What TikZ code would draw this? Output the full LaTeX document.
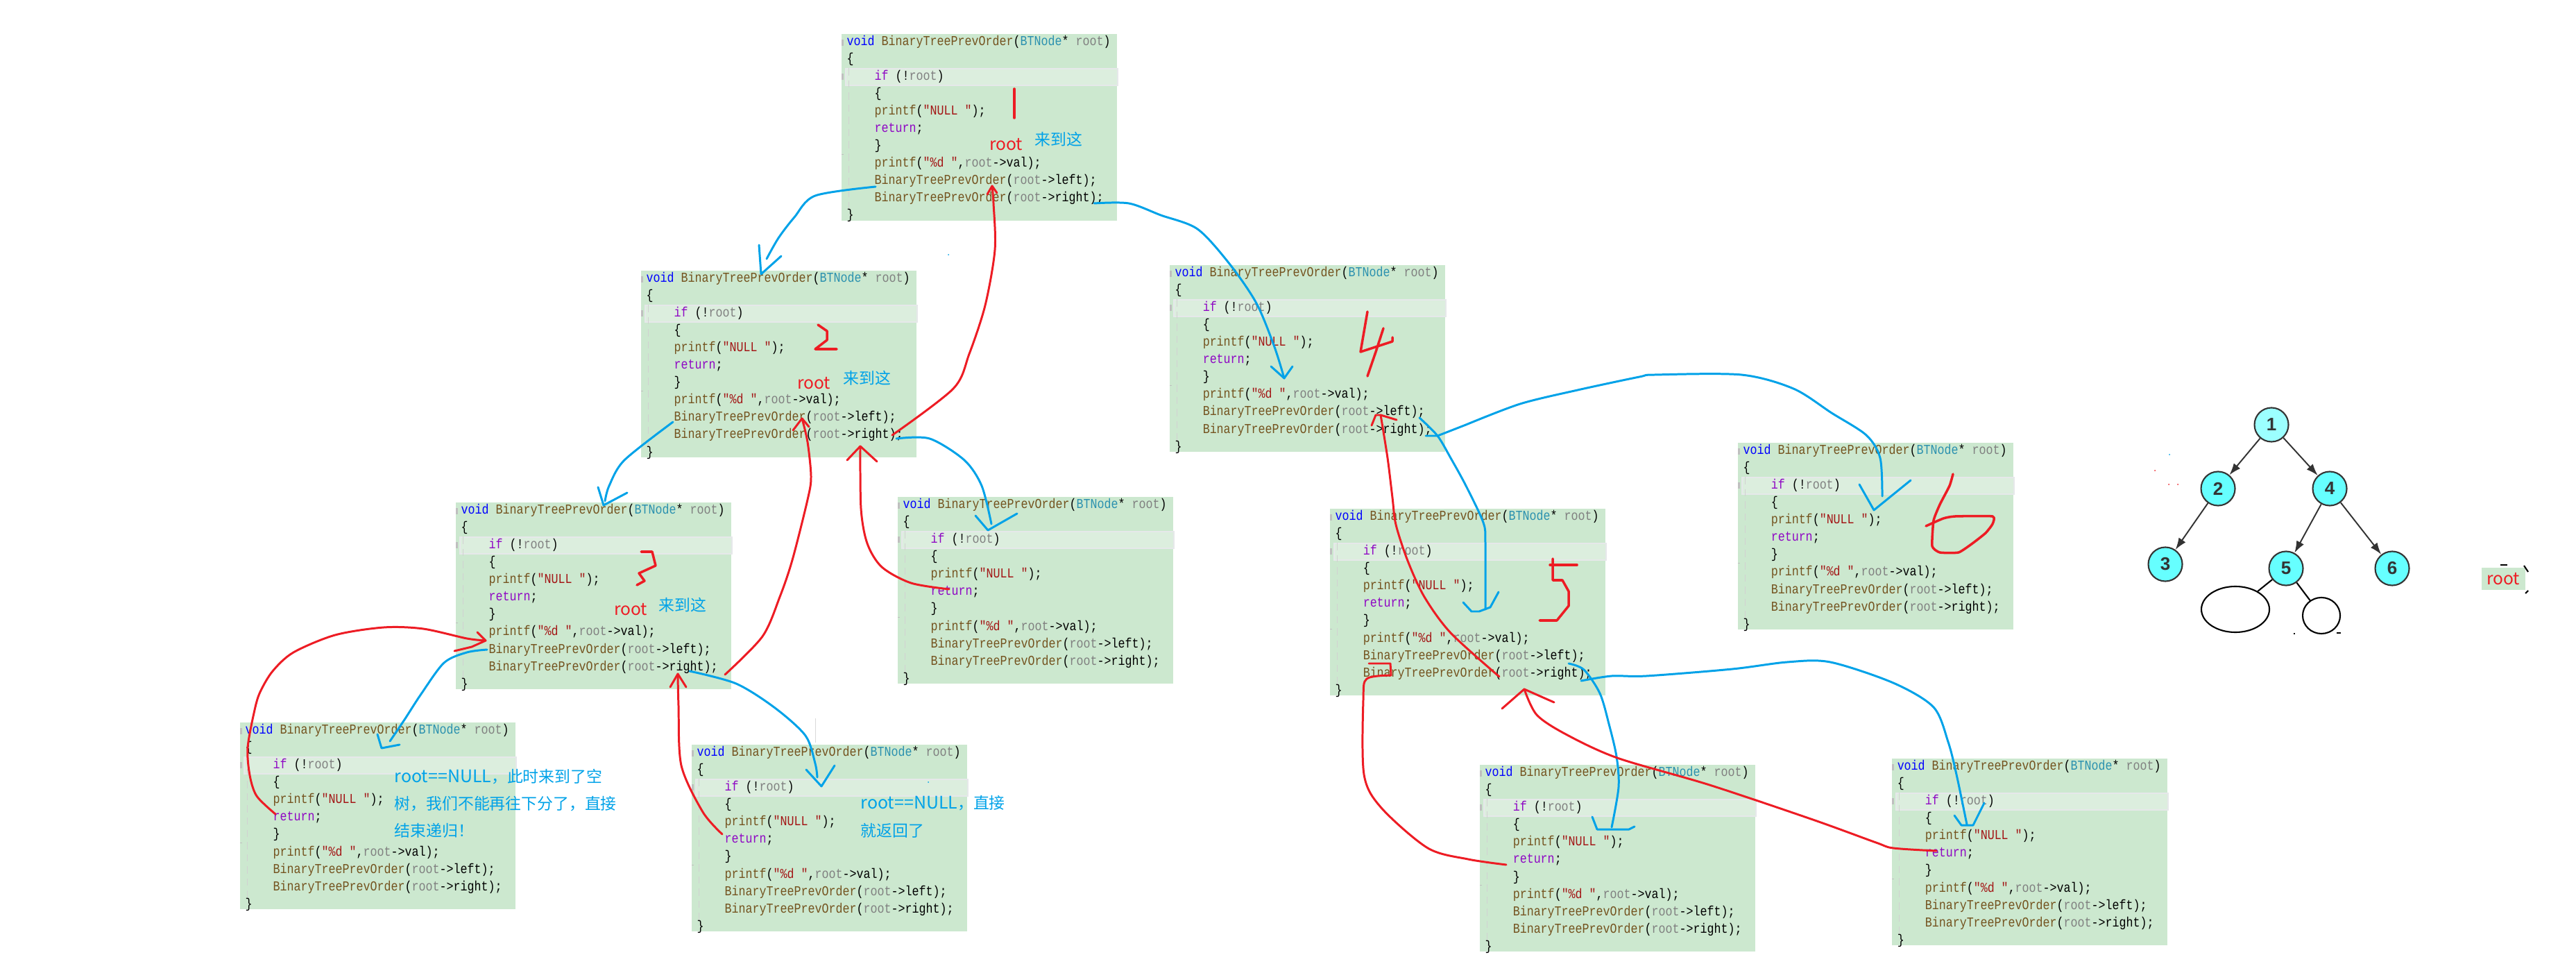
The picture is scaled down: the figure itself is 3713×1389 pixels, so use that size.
\documentclass[tikz,border=0pt]{standalone}
\usepackage{fontspec}
\usetikzlibrary{arrows.meta,shapes.geometric}
\newfontfamily\codefont[FakeStretch=0.846]{Liberation Mono}
\newfontfamily\cjk{Noto Sans CJK SC}
\newfontfamily\treefont{Liberation Sans}
\definecolor{boxgreen}{RGB}{204,232,207}
\definecolor{barfill}{RGB}{220,238,222}
\definecolor{barline}{RGB}{230,232,234}
\definecolor{penblue}{RGB}{0,162,232}
\definecolor{penred}{RGB}{237,28,36}
\definecolor{treecyan}{RGB}{102,255,255}
\definecolor{rootcyan}{RGB}{156,255,255}
\definecolor{treedark}{RGB}{51,51,51}
\newcommand{\ckw}[1]{\textcolor[RGB]{143,8,196}{#1}}
\newcommand{\cvoid}[1]{\textcolor[RGB]{0,0,255}{#1}}
\newcommand{\cfn}[1]{\textcolor[RGB]{116,83,31}{#1}}
\newcommand{\ctype}[1]{\textcolor[RGB]{43,145,175}{#1}}
\newcommand{\cvar}[1]{\textcolor[RGB]{128,128,128}{#1}}
\newcommand{\cstr}[1]{\textcolor[RGB]{163,21,21}{#1}}
\newcommand{\ind}{\hspace*{0.4cm}}
\newcommand{\codelines}{%
\cvoid{void} \cfn{BinaryTreePrevOrder}(\ctype{BTNode}* \cvar{root})\\
\{\\
\ind\ckw{if} (!\cvar{root})\\
\ind\{\\
\ind\cfn{printf}(\cstr{"NULL "});\\
\ind\ckw{return};\\
\ind\}\\
\ind\cfn{printf}(\cstr{"\%d "},\cvar{root}->val);\\
\ind\cfn{BinaryTreePrevOrder}(\cvar{root}->left);\\
\ind\cfn{BinaryTreePrevOrder}(\cvar{root}->right);\\
\}}
\tikzset{
  codebox/.style={anchor=north west, fill=boxgreen, inner sep=0pt, outer sep=0pt, minimum width=3.97cm, minimum height=2.69cm},
  codebar/.style={anchor=north west, fill=barfill, draw=barline, line width=0.5pt, inner sep=0pt, minimum width=3.92cm, minimum height=0.24cm},
  codetext/.style={anchor=north west, inner sep=0pt, align=left, font=\codefont\fontsize{5.6}{7.11}\selectfont},
  guide/.style={densely dashed, line width=0.2pt, draw=black!18},
  foldmark/.style={fill=black!25},
  bluepen/.style={draw=penblue, line width=0.85pt, line join=round, line cap=round},
  redpen/.style={draw=penred, line width=0.85pt, line join=round, line cap=round},
  digitpen/.style={redpen, line width=1pt},
  blackpen/.style={draw=black, line width=0.6pt},
  rootlabel/.style={text=penred, font=\cjk\fontsize{7}{8}\selectfont, inner sep=0pt},
  herelabel/.style={text=penblue, font=\cjk\fontsize{6.5}{8}\selectfont, inner sep=0pt},
  notelabel/.style={anchor=north west, text=penblue, align=left, inner sep=0pt, font=\cjk\fontsize{6.5}{11.2}\selectfont},
  treenode/.style={circle, draw=treedark, line width=0.6pt, fill=treecyan, minimum size=0.49cm, inner sep=0pt, font=\treefont\bfseries\fontsize{7.4}{8}\selectfont, text=treedark},
  treearrow/.style={-{Latex[length=1.7mm,width=1.2mm]}, draw=treedark, line width=0.55pt}
}
\begin{document}
\begin{tikzpicture}[x=0.01cm, y=-0.01cm]
  \useasboundingbox (0,0) rectangle (3713,1389);

  % code blocks
  \foreach \n/\x/\y in {node1/1213/49, node2/924/390, node3/657/724, null2r/1294/716, null3l/346/1041, null3r/997/1073, node4/1686/382, node5/1917/733, node6/2505/638, null5l/2133/1102, null5r/2727/1093} {
    \node[codebox] (\n) at (\x,\y) {};
    \node[codebar] (\n-bar) at (\x+5,\y+49) {};
    \draw[guide] (\x+10,\y+49) -- (\x+10,\y+261);
    \fill[foldmark] (\x,\y+8) rectangle +(3,9);
    \fill[foldmark] (\x,\y+57) rectangle +(3,9);
    \fill[foldmark] (\x,\y+173) rectangle +(3,1);
    \node[codetext] (\n-text) at (\x+7,\y+2) {\codelines};
  }

  % marks for the calls
  \coordinate (left1) at (1262,269);
  \coordinate (right1) at (1577,293);
  \coordinate (left2) at (970,608);
  \coordinate (right2) at (1292,632);
  \coordinate (left3) at (702,936);
  \coordinate (right3) at (994,967);
  \coordinate (left4) at (2046,602);
  \coordinate (right4) at (2055,628);
  \coordinate (left5) at (2261,956);
  \coordinate (right5) at (2279,981);
  \coordinate (back1) at (1430,268);
  \coordinate (back2) at (1156,603);
  \coordinate (back2r) at (1240,643);
  \coordinate (back3) at (700,923);
  \coordinate (back3r) at (977,971);
  \coordinate (back4) at (1990,598);
  \coordinate (back5) at (2004,956);
  \coordinate (back5r) at (2197,993);
  \coordinate (ret2) at (1286,627);
  \coordinate (ret3) at (1045,972);
  \coordinate (ret5) at (2161,975);
  \coordinate (retn2r) at (1368,849);
  \coordinate (retn3l) at (397,1173);
  \coordinate (retn3r) at (1041,1202);
  \coordinate (retn5l) at (2171,1246);
  \coordinate (retn5r) at (2791,1226);
  \coordinate (in2) at (1097,395);
  \coordinate (in3) at (870,728);
  \coordinate (in4) at (1851,545);
  \coordinate (in5) at (2132,881);
  \coordinate (in6) at (2701,735);
  \coordinate (in2r) at (1424,764);
  \coordinate (in3l) at (550,1078);
  \coordinate (in3r) at (1184,1133);
  \coordinate (in5l) at (2302,1195);
  \coordinate (in5r) at (2827,1189);

  % going down
  \draw[bluepen] plot[smooth, tension=0.5] coordinates {(left1) (1175,282) (1145,313) (1122,343) (1105,373)};
  \draw[bluepen] (1094,353) -- (in2) -- (1126,369);
  \draw[bluepen] plot[smooth, tension=0.5] coordinates {(right1) (1627,293) (1673,310) (1726,330) (1772,380) (1811,437) (1837,500) (in4)};
  \draw[bluepen] (1832,528) -- (in4) -- (1863,528);
  \draw[bluepen] plot[smooth, tension=0.5] coordinates {(left2) (900,663) (878,700) (872,722)};
  \draw[bluepen] (862,702) -- (in3) -- (904,710);
  \draw[bluepen] plot[smooth, tension=0.5] coordinates {(right2) (1340,632) (1390,663) (1415,700) (1429,755)};
  \draw[bluepen] (1406,743) -- (in2r) -- (1466,740);
  \draw[bluepen] plot[smooth, tension=0.5] coordinates {(left3) (673,940) (640,955) (607,1000) (583,1037) (562,1068)};
  \draw[bluepen] (544,1058) -- (in3l) -- (576,1073);
  \draw[bluepen] plot[smooth, tension=0.5] coordinates {(right3) (1061,985) (1117,1020) (1161,1060) (1175,1100) (1178,1120)};
  \draw[bluepen] (1162,1109) -- (in3r) -- (1203,1103);
  \draw[bluepen] plot[smooth, tension=0.5] coordinates {(left4) (2072,628) (2091,660) (2113,700) (2138,753) (2141,783) (2141,878)};
  \draw[bluepen] (2109,868) -- (2121,881) -- (in5) -- (2148,875) -- (2160,853);
  \draw[bluepen] (right4) -- (2072,628) -- (2113,612) -- plot[smooth, tension=0.5] coordinates {(2113,612) (2191,582) (2274,562) (2363,543) (2385,540) (2510,540) (2585,560) (2640,595) (2690,627) (2710,660) (2713,715)};
  \draw[bluepen] (2680,698) -- (in6) -- (2754,692);
  \draw[bluepen] plot[smooth, tension=0.5] coordinates {(left5) (2283,965) (2306,999) (2319,1043) (2330,1090) (2333,1134) (2323,1192)};
  \draw[bluepen] (2295,1177) -- (in5l) -- (2348,1195) -- (2356,1191);
  \draw[bluepen] plot[smooth, tension=0.5] coordinates {(right5) (2323,974) (2373,974) (2497,964) (2576,954) (2638,954) (2729,984) (2787,1019) (2808,1069) (2820,1116) (2835,1188)};
  \draw[bluepen] (2817,1175) -- (in5r) -- (2844,1189) -- (2860,1157);

  % going back
  \draw[redpen] plot[smooth, tension=0.5] coordinates {(ret2) (1374,560) (1397,510) (1420,440) (1434,360) (1432,293) (back1)};
  \draw[redpen] (1423,280) -- (back1) -- (1437,278);
  \draw[redpen] plot[smooth, tension=0.5] coordinates {(ret3) (1099,917) (1124,860) (1142,807) (1164,720) (1169,687) (1164,637) (back2)};
  \draw[redpen] (1143,620) -- (back2) -- (1166,615);
  \draw[redpen] plot[smooth, tension=0.5] coordinates {(retn2r) (1313,840) (1271,817) (1250,783) (1241,733) (back2r)};
  \draw[redpen] (1221,663) -- (back2r) -- (1264,665);
  \draw[redpen] plot[smooth, tension=0.5] coordinates {(retn3l) (370,1147) (360,1117) (357,1077) (367,1023) (375,997) (393,967) (423,940) (483,915) (553,904) (610,906) (673,920) (back3)};
  \draw[redpen] (688,911) -- (back3) -- (680,932) -- (655,938);
  \draw[redpen] plot[smooth, tension=0.5] coordinates {(retn3r) (1013,1170) (982,1103) (978,1017) (back3r)};
  \draw[redpen] (966,990) -- (back3r) -- (989,990);
  \draw[redpen] plot[smooth, tension=0.5] coordinates {(ret5) (2091,912) (2053,860) (2029,808) (2012,756) (2007,717) (2000,660) (back4)};
  \draw[redpen] (1977,613) -- (1983,598) -- (back4) -- (2013,605);
  \draw[redpen] plot[smooth, tension=0.5] coordinates {(retn5l) (2116,1238) (2058,1222) (1991,1164) (1966,1116) (1965,1008) (1970,978) (2005,973)};
  \draw[redpen] (1973,956) -- (back5) -- (2005,973);
  \draw[redpen] plot[smooth, tension=0.5] coordinates {(retn5r) (2729,1222) (2704,1214) (2613,1181) (2464,1131) (2331,1092) (2257,1058) (2215,1030) (back5r)};
  \draw[redpen] (2165,1021) -- (back5r) -- (2240,1012);

  % hand written numbers
  \draw[digitpen] (1462,128) -- (1462,170);
  \draw[digitpen] (1179,468) -- (1192,477) -- (1192,490) -- (1175,503) -- (1206,503);
  \draw[digitpen] (924,795) -- (940,795) -- (945,815) -- (921,826) -- (929,837) -- (918,843);
  \draw[digitpen] (1971,449) -- (1961,507) -- (2007,492) -- (2007,486);
  \draw[digitpen] (1994,473) -- (1983,507) -- (1971,542);
  \draw[digitpen] (2238,805) -- (2238,836) -- (2252,836) -- (2261,852) -- (2261,873) -- (2244,894) -- (2219,894);
  \draw[digitpen] (2234,814) -- (2273,814);
  \draw[digitpen] plot[smooth, tension=0.3] coordinates {(2815,683) (2810,700) (2796,727) (2787,750) (2785,787) (2796,796) (2823,796) (2843,783) (2862,768) (2872,755) (2872,744) (2818,744) (2801,747) (2776,758)};

  % labels
  \node[rootlabel] (root1) at (1450,208) {root};
  \node[herelabel] (here1) at (1526,201) {来到这};
  \node[rootlabel] (root2) at (1173,552) {root};
  \node[herelabel] (here2) at (1250,545) {来到这};
  \node[rootlabel] (root3) at (909,878) {root};
  \node[herelabel] (here3) at (984,872) {来到这};
  \node[notelabel] (note1) at (568,1107) {{\fontsize{7.1}{11.2}\selectfont root==NULL}，此时来到了空\\树，我们不能再往下分了，直接\\结束递归！};
  \node[notelabel] (note2) at (1240,1146) {{\fontsize{7.1}{11.2}\selectfont root==NULL}，直接\\就返回了};

  % the tree
  \node[treenode, fill=rootcyan] (t1) at (3274,612) {1};
  \node[treenode] (t2) at (3197,704) {2};
  \node[treenode] (t4) at (3358,704) {4};
  \node[treenode] (t3) at (3121,813) {3};
  \node[treenode] (t5) at (3295,819) {5};
  \node[treenode] (t6) at (3448,819) {6};
  \foreach \a/\b in {t1/t2,t1/t4,t2/t3,t4/t5,t4/t6}
    \draw[treearrow] (\a) -- (\b);
  \node[ellipse, blackpen, minimum width=0.98cm, minimum height=0.66cm, inner sep=0pt] (empty1) at (3222,878) {};
  \node[ellipse, blackpen, minimum width=0.54cm, minimum height=0.52cm, inner sep=0pt] (empty2) at (3346,887) {};
  \draw[blackpen] (t5) -- (empty1);
  \draw[blackpen] (t5) -- (empty2);
  \node[fill=boxgreen, text=penred, font=\cjk\fontsize{7}{8}\selectfont, minimum width=0.63cm, minimum height=0.31cm, inner sep=0pt] (rootkey) at (3608,834) {root};

  % leftover specks
  \foreach \x/\y/\c in {1367/367/penblue, 1338/1127/penblue, 3127/655/penblue, 3106/678/penred, 3126/698/penred, 3139/698/penred}
    \fill[\c] (\x,\y) circle[radius=1];
  \draw[blackpen] (3604,814) -- (3614,814);
  \draw[blackpen] (3638,815) -- (3644,824);
  \draw[blackpen] (3640,855) -- (3644,851);
  \draw[blackpen] (3306,913) -- (3308,913);
  \draw[blackpen] (3368,912) -- (3374,912);
  \draw[black!15, line width=0.2pt] (1175,1035) -- (1175,1070);
\end{tikzpicture}
\end{document}
